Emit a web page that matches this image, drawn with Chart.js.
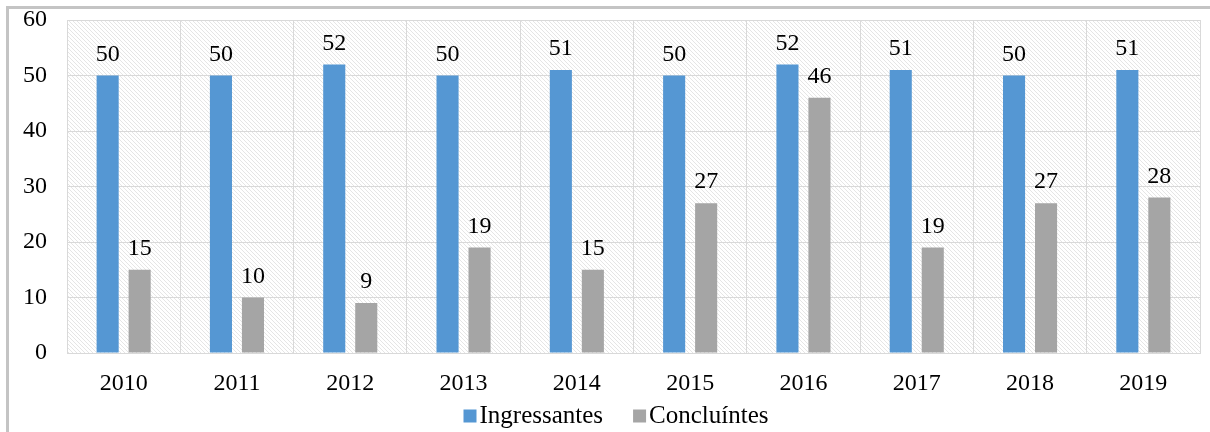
<!DOCTYPE html>
<html>
<head>
<meta charset="utf-8">
<script src="https://cdn.jsdelivr.net/npm/chart.js@4.4.1/dist/chart.umd.min.js"></script>
<style>
  html, body { margin: 0; padding: 0; background: #fff; }
  #wrap { position: relative; width: 1210px; height: 432px; }
  #frame { position: absolute; left: 6px; top: 6px; right: 0; bottom: 0;
           border-top: 3px solid #c4c4c4; border-left: 3px solid #c4c4c4; pointer-events: none; }
  canvas { position: absolute; left: 0; top: 0; }
  #warm { position: absolute; left: -9999px; top: 0; font-family: 'Liberation Serif'; font-size: 24px; }
</style>
</head>
<body>
<div id="wrap">
  <canvas id="chart" width="1210" height="432"></canvas>
  <div id="frame"></div>
</div>
<span id="warm">Ingressantes Concluíntes 0123456789</span>
<script>
// chart data
const years = ['2010', '2011', '2012', '2013', '2014', '2015', '2016', '2017', '2018', '2019'];
const ingressantes = [50, 50, 52, 50, 51, 50, 52, 51, 50, 51];
const concluintes = [15, 10, 9, 19, 15, 27, 46, 19, 27, 28];

const serif = "'Liberation Serif', 'Times New Roman', serif";
Chart.defaults.font.family = serif;
Chart.defaults.font.size = 24;
Chart.defaults.color = '#000';

// diagonal hatch for the plot area
function makeHatch() {
    const c = document.createElement('canvas');
    c.width = 4;
    c.height = 4;
    const g = c.getContext('2d');
    g.strokeStyle = 'rgba(0,0,0,0.10)';
    g.lineWidth = 1;
    g.beginPath();
    g.moveTo(-1, -1); g.lineTo(5, 5);
    g.moveTo(-1, 3); g.lineTo(1, 5);
    g.moveTo(3, -1); g.lineTo(5, 1);
    g.stroke();
    return g.createPattern(c, 'repeat');
}

const hatchPlugin = {
    id: 'hatch',
    beforeDraw(chart) {
        const { ctx, chartArea: a } = chart;
        ctx.save();
        ctx.fillStyle = makeHatch();
        ctx.fillRect(a.left, a.top, a.right - a.left, a.bottom - a.top);
        ctx.restore();
    }
};

// value labels above the bars
const valueLabels = {
    id: 'valueLabels',
    afterDatasetsDraw(chart) {
        const ctx = chart.ctx;
        ctx.save();
        ctx.font = '24px ' + serif;
        ctx.fillStyle = '#000';
        ctx.textAlign = 'center';
        ctx.textBaseline = 'bottom';
        chart.data.datasets.forEach((ds, i) => {
            chart.getDatasetMeta(i).data.forEach((bar, j) => {
                ctx.fillText(ds.data[j], bar.x, bar.y - 9);
            });
        });
        ctx.restore();
    }
};

// legend like the original: small square right next to the text
const bottomLegend = {
    id: 'bottomLegend',
    afterDraw(chart) {
        const ctx = chart.ctx;
        const box = 13, gap = 3, spacing = 30, y = 416;
        ctx.save();
        ctx.font = '25px ' + serif;
        ctx.textBaseline = 'middle';
        const items = chart.data.datasets.map(ds => ({ text: ds.label, color: ds.backgroundColor, w: ctx.measureText(ds.label).width }));
        let total = items.reduce((s, it) => s + box + gap + it.w, 0) + spacing * (items.length - 1);
        let x = 616 - total / 2;
        items.forEach(it => {
            ctx.fillStyle = it.color;
            ctx.fillRect(x, y - box / 2, box, box);
            x += box + gap;
            ctx.fillStyle = '#000';
            ctx.fillText(it.text, x, y);
            x += it.w + spacing;
        });
        ctx.restore();
    }
};

function drawChart() {
    new Chart(document.getElementById('chart'), {
        type: 'bar',
        data: {
            labels: years,
            datasets: [
                { label: 'Ingressantes', data: ingressantes, backgroundColor: '#5597d3' },
                { label: 'Concluíntes', data: concluintes, backgroundColor: '#a5a5a5' }
            ]
        },
        options: {
            responsive: false,
            animation: false,
            categoryPercentage: 0.565,
            barPercentage: 0.69,
            layout: { padding: { left: 10, right: 10, top: 20, bottom: 0 } },
            scales: {
                x: {
                    grid: { color: '#d9d9d9', drawTicks: false },
                    border: { color: '#d9d9d9' },
                    ticks: { padding: 16 },
                    afterFit(scale) { scale.height = 79; }
                },
                y: {
                    min: 0, max: 60,
                    ticks: { stepSize: 10, padding: 20 },
                    grid: { color: '#d9d9d9', drawTicks: false },
                    border: { display: false },
                    afterFit(scale) {
                        scale.width = 57;
                        scale.paddingTop = 0;
                        scale.paddingBottom = 0;
                    }
                }
            },
            plugins: {
                legend: { display: false },
                tooltip: { enabled: false }
            }
        },
        plugins: [hatchPlugin, valueLabels, bottomLegend]
    });
}

// make sure the serif face is ready before the canvas uses it
document.fonts.load("24px 'Liberation Serif'").then(drawChart, drawChart);
</script>
</body>
</html>
